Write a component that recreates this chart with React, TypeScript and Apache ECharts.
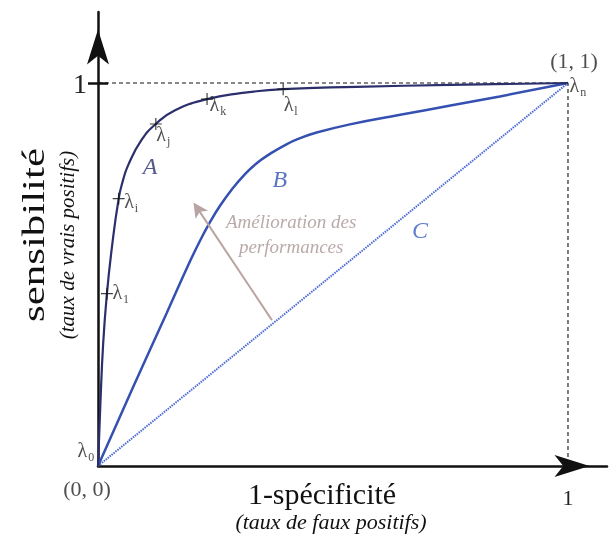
import React, { useEffect, useRef } from 'react';
import * as echarts from 'echarts';

// ---- data ----
const curveA: number[][] = [
  [0, 0], [0.005, 0.16], [0.011, 0.32], [0.019, 0.45], [0.029, 0.565], [0.044, 0.698],
  [0.053, 0.745], [0.064, 0.785], [0.093, 0.852], [0.123, 0.893], [0.164, 0.929],
  [0.232, 0.958], [0.30, 0.973], [0.394, 0.984], [0.55, 0.990], [0.75, 0.995], [1, 1],
];
const curveB: number[][] = [
  [0, 0], [0.075, 0.207], [0.146, 0.399], [0.196, 0.535], [0.217, 0.588], [0.238, 0.636],
  [0.26, 0.680], [0.288, 0.727], [0.309, 0.757], [0.337, 0.790], [0.366, 0.815],
  [0.401, 0.840], [0.43, 0.856], [0.46, 0.869], [0.536, 0.892], [0.643, 0.917],
  [0.75, 0.941], [0.855, 0.965], [1, 1],
];
const curveC: number[][] = [[0, 0], [1, 1]];
const guideLine: number[][] = [[0, 1], [1, 1], [1, 0]];

const lambdaNames = ['0', '1', 'i', 'j', 'k', 'l', 'n'];
const lambdaX = [0, 0.019, 0.044, 0.123, 0.232, 0.394, 1];
const lambdaY = [0, 0.45, 0.698, 0.893, 0.958, 0.984, 1];
const lambdaMarked = [false, true, true, true, true, true, false];

const curveNames = ['A', 'B', 'C'];
const curveNameX = [0.111, 0.387, 0.685];
const curveNameY = [0.783, 0.749, 0.616];

const arrowFrom = [0.370, 0.381];
const arrowTo = [0.212, 0.672];
const arrowText = ['Amélioration des', 'performances'];
const arrowTextX = 0.411;
const arrowTextY = 0.606;

const cornerLabels = ['(0, 0)', '(1, 1)'];
const cornerX = [0, 1];
const cornerY = [0, 1];

const xTickLabels = [1];
const yTickLabels = [1];

const xTitle = '1-spécificité';
const xSubtitle = '(taux de faux positifs)';
const yTitle = 'sensibilité';
const ySubtitle = '(taux de vrais positifs)';

// ---- layout / style (not data) ----
const FONT = 'Liberation Serif';
const X_MAX = 1.083;
const Y_MAX = 1.1854;
const lambdaLabelOffset: number[][] = [
  [-20, -26], [6, -11], [6, -7], [1, 1], [3, -5], [1, 5], [2, -8],
];
const curveNameColors = ['#2b2f6b', '#3451b2', '#3a5cc4'];
const cornerOffset: number[][] = [[-11, 22], [6, -23]];

export default function App() {
  const ref = useRef<HTMLDivElement>(null);
  useEffect(() => {
    const chart = echarts.init(ref.current!, null, { renderer: 'svg' });
    const axisArrow = {
      show: true,
      symbol: ['none', 'arrow'],
      symbolSize: [16.5, 35],
      symbolOffset: [0, -17.5],
      lineStyle: { color: '#111', width: 2.5 },
    };
    const option: any = {
      animation: false,
      grid: { left: 98, right: 2, top: 12, bottom: 79, outerBoundsMode: 'none', containLabel: false },
      xAxis: {
        type: 'value', min: 0, max: X_MAX,
        axisLine: axisArrow,
        axisTick: { show: false },
        splitLine: { show: false },
        axisLabel: {
          customValues: xTickLabels, margin: 20,
          fontFamily: FONT, fontSize: 22, color: '#222',
          formatter: (v: number) => String(v),
        },
      },
      yAxis: [
        {
          type: 'value', min: 0, max: Y_MAX,
          axisLine: axisArrow,
          axisTick: { show: true, customValues: yTickLabels, length: 10, lineStyle: { color: '#111', width: 2.5 } },
          splitLine: { show: false },
          axisLabel: {
            customValues: yTickLabels, margin: 11,
            fontFamily: FONT, fontSize: 28, color: '#222',
            formatter: (v: number) => String(v),
          },
        },
        {
          type: 'value', min: 0, max: Y_MAX, position: 'left', offset: 0,
          axisLine: { show: false },
          axisTick: { show: true, inside: true, customValues: yTickLabels, length: 10, lineStyle: { color: '#111', width: 2.5 } },
          axisLabel: { show: false },
          splitLine: { show: false },
        },
      ],
      series: [
        {
          type: 'line', data: guideLine, symbol: 'none', silent: true, z: 1,
          lineStyle: { color: '#111', width: 1.1, type: [4, 3] },
        },
        {
          type: 'line', data: curveC, symbol: 'none', silent: true, z: 2,
          lineStyle: { color: '#4a6cd4', width: 2, type: [1.5, 1] },
        },
        {
          type: 'line', data: curveB, symbol: 'none', smooth: 0.5, silent: true, z: 3,
          lineStyle: { color: '#3451b2', width: 2.5 },
        },
        {
          type: 'line', data: curveA, symbol: 'none', smooth: 0.5, silent: true, z: 4,
          lineStyle: { color: '#2b2f6b', width: 2.2 },
        },
        {
          type: 'scatter', silent: true, z: 5,
          symbol: 'path://M0,5L10,5M5,0L5,10', symbolSize: 12,
          itemStyle: { color: 'none', borderColor: '#111', borderWidth: 1.2 },
          data: lambdaX.map((x, i) => [x, lambdaY[i]]).filter((_, i) => lambdaMarked[i]),
        },
        {
          type: 'scatter', silent: true, z: 6, symbolSize: 1,
          itemStyle: { color: 'transparent' },
          data: lambdaX.map((x, i) => ({
            value: [x, lambdaY[i]], name: lambdaNames[i],
            label: { position: lambdaLabelOffset[i] },
          })),
          label: {
            show: true, align: 'left', verticalAlign: 'top',
            formatter: (p: any) => `{l|λ}{s|${p.name}}`,
            rich: {
              l: { fontFamily: FONT, fontSize: 20, lineHeight: 20, color: '#222', verticalAlign: 'top' },
              s: { fontFamily: FONT, fontSize: 12, lineHeight: 12, color: '#222', verticalAlign: 'top', padding: [11, 0, 0, 1] },
            },
          },
        },
        {
          type: 'scatter', silent: true, z: 6, symbolSize: 1,
          itemStyle: { color: 'transparent' },
          data: curveNames.map((n, i) => ({
            value: [curveNameX[i], curveNameY[i]], name: n,
            label: { color: curveNameColors[i] },
          })),
          label: {
            show: true, position: 'inside', formatter: (p: any) => p.name,
            fontFamily: FONT, fontStyle: 'italic', fontSize: 24,
          },
        },
        {
          type: 'lines', coordinateSystem: 'cartesian2d', silent: true, z: 5,
          symbol: ['none', 'path://M5,0L10,16L5,12L0,16Z'], symbolSize: 15, symbolKeepAspect: true,
          lineStyle: { color: '#b9a3a3', width: 2, opacity: 1, curveness: 0 },
          data: [{ coords: [arrowFrom, arrowTo] }],
        },
        {
          type: 'scatter', silent: true, z: 6, symbolSize: 1,
          itemStyle: { color: 'transparent' },
          data: [{ value: [arrowTextX, arrowTextY], name: arrowText.join('\n') }],
          label: {
            show: true, position: 'inside', formatter: (p: any) => p.name,
            fontFamily: FONT, fontStyle: 'italic', fontSize: 19, lineHeight: 25,
            color: '#a99393', align: 'center',
          },
        },
        {
          type: 'scatter', silent: true, z: 6, symbolSize: 1,
          itemStyle: { color: 'transparent' },
          data: cornerLabels.map((n, i) => ({
            value: [cornerX[i], cornerY[i]], name: n,
            label: { offset: cornerOffset[i] },
          })),
          label: {
            show: true, position: 'inside', formatter: (p: any) => p.name,
            fontFamily: FONT, fontSize: 22, color: '#222',
          },
        },
      ],
      graphic: [
        {
          type: 'text', x: 322, y: 493,
          style: { text: xTitle, font: `30px "${FONT}"`, fill: '#111', textAlign: 'center', textVerticalAlign: 'middle' },
        },
        {
          type: 'text', x: 331, y: 521,
          style: { text: xSubtitle, font: `italic 22px "${FONT}"`, fill: '#111', textAlign: 'center', textVerticalAlign: 'middle' },
        },
        {
          type: 'text', x: 33, y: 235, rotation: Math.PI / 2, scaleX: 1.34,
          style: { text: yTitle, font: `32px "${FONT}"`, fill: '#111', textAlign: 'center', textVerticalAlign: 'middle' },
        },
        {
          type: 'text', x: 67, y: 245, rotation: Math.PI / 2,
          style: { text: ySubtitle, font: `italic 21px "${FONT}"`, fill: '#111', textAlign: 'center', textVerticalAlign: 'middle' },
        },
      ],
    };
    chart.setOption(option);
    return () => chart.dispose();
  }, []);
  return <div ref={ref} style={{ position: 'fixed', left: 0, top: 0, width: 609, height: 545 }} />;
}
